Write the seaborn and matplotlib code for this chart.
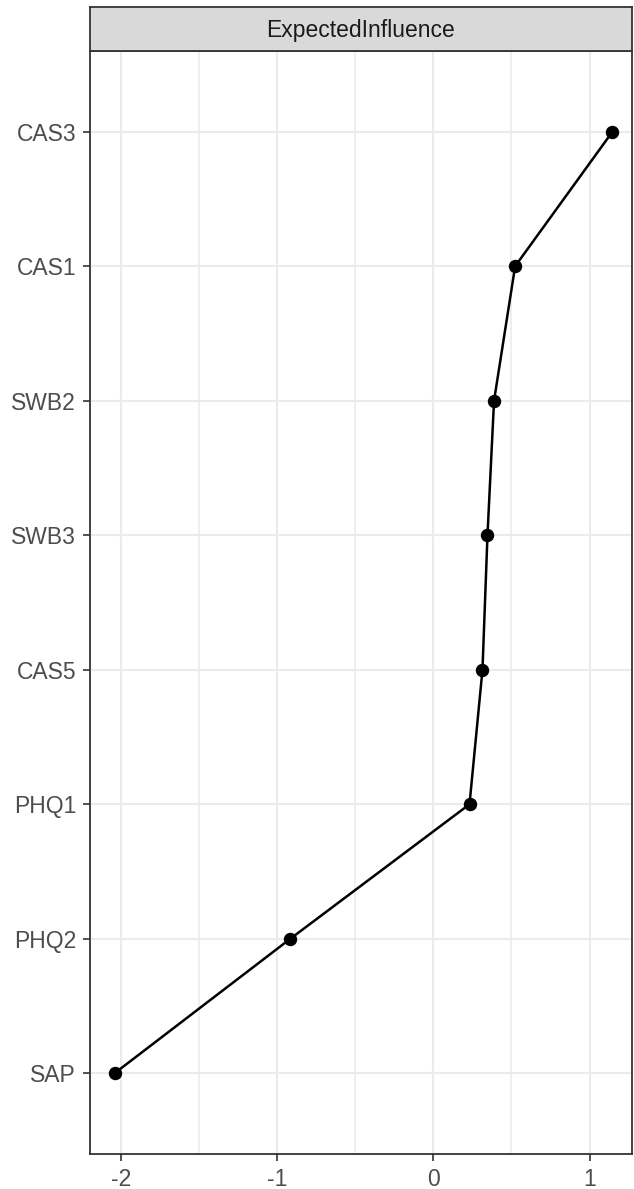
import matplotlib
matplotlib.use("Agg")
import matplotlib.pyplot as plt
import seaborn as sns
import pandas as pd

nodes = ["CAS3", "CAS1", "SWB2", "SWB3", "CAS5", "PHQ1", "PHQ2", "SAP"]
expected_influence = [1.147, 0.524, 0.389, 0.347, 0.315, 0.232, -0.915, -2.04]
x_ticks = [-2, -1, 0, 1]
x_minor = [-1.5, -0.5, 0.5]
x_limits = (-2.197, 1.272)
panel_title = "ExpectedInfluence"

df = pd.DataFrame({"node": nodes, "value": expected_influence})

sns.set_theme(style="white")
plt.rcParams["font.family"] = ["Liberation Sans", "DejaVu Sans"]

fig = plt.figure(figsize=(6.34, 11.89), dpi=100)
W, H = 634, 1189
left, right, top, bottom = 90, 632, 51, 1154
ax = fig.add_axes([left / W, 1 - bottom / H, (right - left) / W, (bottom - top) / H])

sns.pointplot(data=df, x="value", y="node", order=nodes, color="black",
              markersize=8.3, linewidth=1.8, orient="h", errorbar=None, ax=ax)

n = len(nodes)
ax.set_ylim(n - 1 + 0.6, -0.6)
ax.set_xlim(*x_limits)

ax.set_xticks(x_ticks)
ax.set_xticklabels([str(t) for t in x_ticks])
ax.set_xticks(x_minor, minor=True)
ax.set_xlabel("")
ax.set_ylabel("")

ax.set_axisbelow(True)
ax.grid(True, which="major", color="#ebebeb", linewidth=1.5)
ax.grid(True, which="minor", axis="x", color="#ebebeb", linewidth=1.1)
for s in ax.spines.values():
    s.set_color("#333333")
    s.set_linewidth(1.3)

ax.tick_params(axis="both", which="major", length=5, width=1.2, color="#333333",
               labelsize=16.5, labelcolor="#4d4d4d", pad=5, direction="out")
ax.tick_params(axis="x", which="minor", length=0)
ax.tick_params(left=True, bottom=True)

# facet strip above the panel
strip_top = 7
sax = fig.add_axes([left / W, 1 - top / H, (right - left) / W, (top - strip_top) / H])
sax.set_facecolor("#d9d9d9")
sax.set_xticks([])
sax.set_yticks([])
for s in sax.spines.values():
    s.set_color("#333333")
    s.set_linewidth(1.3)
sax.text(0.5, 0.47, panel_title, ha="center", va="center", fontsize=16.5,
         color="#1a1a1a", transform=sax.transAxes)

fig.savefig("out.png", dpi=100, facecolor="white")
